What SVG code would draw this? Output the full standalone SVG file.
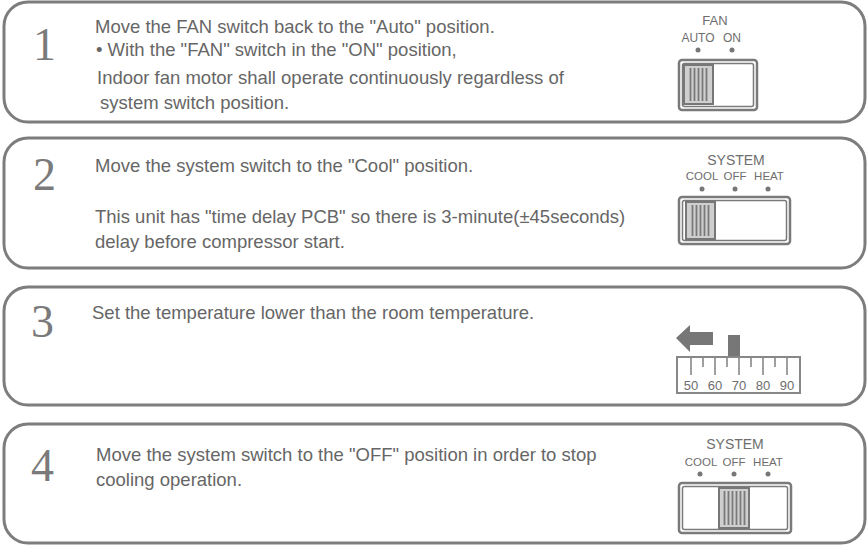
<svg xmlns="http://www.w3.org/2000/svg" width="868" height="550" viewBox="0 0 868 550">
<style>
.box{fill:#fff;stroke:#7d7d7d;stroke-width:3}
.num{font-family:"Liberation Serif","Times New Roman",serif;font-size:46px;fill:#7a7a7a}
.txt{font-family:"Liberation Sans",Arial,sans-serif;font-size:18.5px;fill:#666}
.lbl{font-family:"Liberation Sans",Arial,sans-serif;fill:#6e6e6e;text-anchor:middle}
.dot{fill:#777}
.sw-o{fill:#fff;stroke:#7a7a7a;stroke-width:2.5}
.sw-i{fill:none;stroke:#7a7a7a;stroke-width:1.5}
.sl{fill:#cfcfcf;stroke:#777;stroke-width:2}
.st{stroke:#7a7a7a;stroke-width:1.8}
.rul{fill:#fff;stroke:#888;stroke-width:2}
.tk{stroke:#888;stroke-width:1.6}
</style>
<rect width="868" height="550" fill="#fff"/>

<g id="step1">
<rect class="box" x="4" y="2" width="861" height="120" rx="24"/>
<text class="num" x="33" y="60">1</text>
<text class="txt" x="95" y="33">Move the FAN switch back to the "Auto" position.</text>
<text class="txt" x="96" y="56">• With the "FAN" switch in the "ON" position,</text>
<text class="txt" x="97" y="84">Indoor fan motor shall operate continuously regardless of</text>
<text class="txt" x="100" y="109">system switch position.</text>
<g id="fan-switch">
<text class="lbl" x="715" y="25" font-size="13">FAN</text>
<text class="lbl" x="698" y="42" font-size="12">AUTO</text>
<text class="lbl" x="732" y="42" font-size="12">ON</text>
<circle class="dot" cx="698" cy="50" r="2.5"/>
<circle class="dot" cx="732" cy="50" r="2.5"/>
<rect class="sw-o" x="679" y="60" width="78" height="50" rx="3"/>
<rect class="sw-i" x="682.5" y="63.5" width="71" height="43" rx="2"/>
<rect class="sl" x="684" y="65" width="29" height="39"/>
<path class="st" d="M690.5 68V101M694.5 68V101M698.5 68V101M702.5 68V101M706.5 68V101"/>
</g>
</g>

<g id="step2">
<rect class="box" x="4" y="138" width="861" height="130" rx="24"/>
<text class="num" x="33" y="190">2</text>
<text class="txt" x="95" y="172">Move the system switch to the "Cool" position.</text>
<text class="txt" x="95" y="223">This unit has "time delay PCB" so there is 3-minute(±45seconds)</text>
<text class="txt" x="95" y="248">delay before compressor start.</text>
<g id="system-switch-cool">
<text class="lbl" x="736" y="165" font-size="14">SYSTEM</text>
<text class="lbl" x="702" y="180" font-size="11.5">COOL</text>
<text class="lbl" x="735" y="180" font-size="11.5">OFF</text>
<text class="lbl" x="769" y="180" font-size="11.5">HEAT</text>
<circle class="dot" cx="702" cy="189" r="2.5"/>
<circle class="dot" cx="735" cy="189" r="2.5"/>
<circle class="dot" cx="768" cy="189" r="2.5"/>
<rect class="sw-o" x="679" y="197" width="111" height="47" rx="3"/>
<rect class="sw-i" x="682.5" y="200.5" width="104" height="40" rx="2"/>
<rect class="sl" x="686" y="202" width="29" height="37"/>
<path class="st" d="M692.5 205V236M696.5 205V236M700.5 205V236M704.5 205V236M708.5 205V236"/>
</g>
</g>

<g id="step3">
<rect class="box" x="4" y="287" width="861" height="118" rx="24"/>
<text class="num" x="31" y="337">3</text>
<text class="txt" x="92" y="319">Set the temperature lower than the room temperature.</text>
<g id="thermostat">
<path d="M676 338L690 325V332H713V345H690V352Z" fill="#777"/>
<rect x="728" y="335" width="12" height="22" fill="#777"/>
<rect class="rul" x="677" y="357" width="123" height="36"/>
<path class="tk" d="M691 357V375M715 357V375M739 357V375M763 357V375M787 357V375M703 357V367M727 357V367M751 357V367M775 357V367"/>
<text class="lbl" x="691" y="390" font-size="13">50</text>
<text class="lbl" x="715" y="390" font-size="13">60</text>
<text class="lbl" x="739" y="390" font-size="13">70</text>
<text class="lbl" x="763" y="390" font-size="13">80</text>
<text class="lbl" x="787" y="390" font-size="13">90</text>
</g>
</g>

<g id="step4">
<rect class="box" x="4" y="424" width="861" height="119" rx="24"/>
<text class="num" x="31" y="481">4</text>
<text class="txt" x="96" y="461">Move the system switch to the "OFF" position in order to stop</text>
<text class="txt" x="96" y="486">cooling operation.</text>
<g id="system-switch-off">
<text class="lbl" x="735" y="449" font-size="14">SYSTEM</text>
<text class="lbl" x="701" y="466" font-size="11.5">COOL</text>
<text class="lbl" x="734" y="466" font-size="11.5">OFF</text>
<text class="lbl" x="768" y="466" font-size="11.5">HEAT</text>
<circle class="dot" cx="700" cy="474" r="2.5"/>
<circle class="dot" cx="734" cy="474" r="2.5"/>
<circle class="dot" cx="768" cy="474" r="2.5"/>
<rect class="sw-o" x="679" y="483" width="112" height="50" rx="3"/>
<rect class="sw-i" x="682.5" y="486.5" width="105" height="43" rx="2"/>
<rect class="sl" x="719" y="488" width="30" height="40"/>
<path class="st" d="M724.5 491V525M728.5 491V525M732.5 491V525M736.5 491V525M740.5 491V525M744.5 491V525"/>
</g>
</g>

<g id="connectors"></g>
</svg>
